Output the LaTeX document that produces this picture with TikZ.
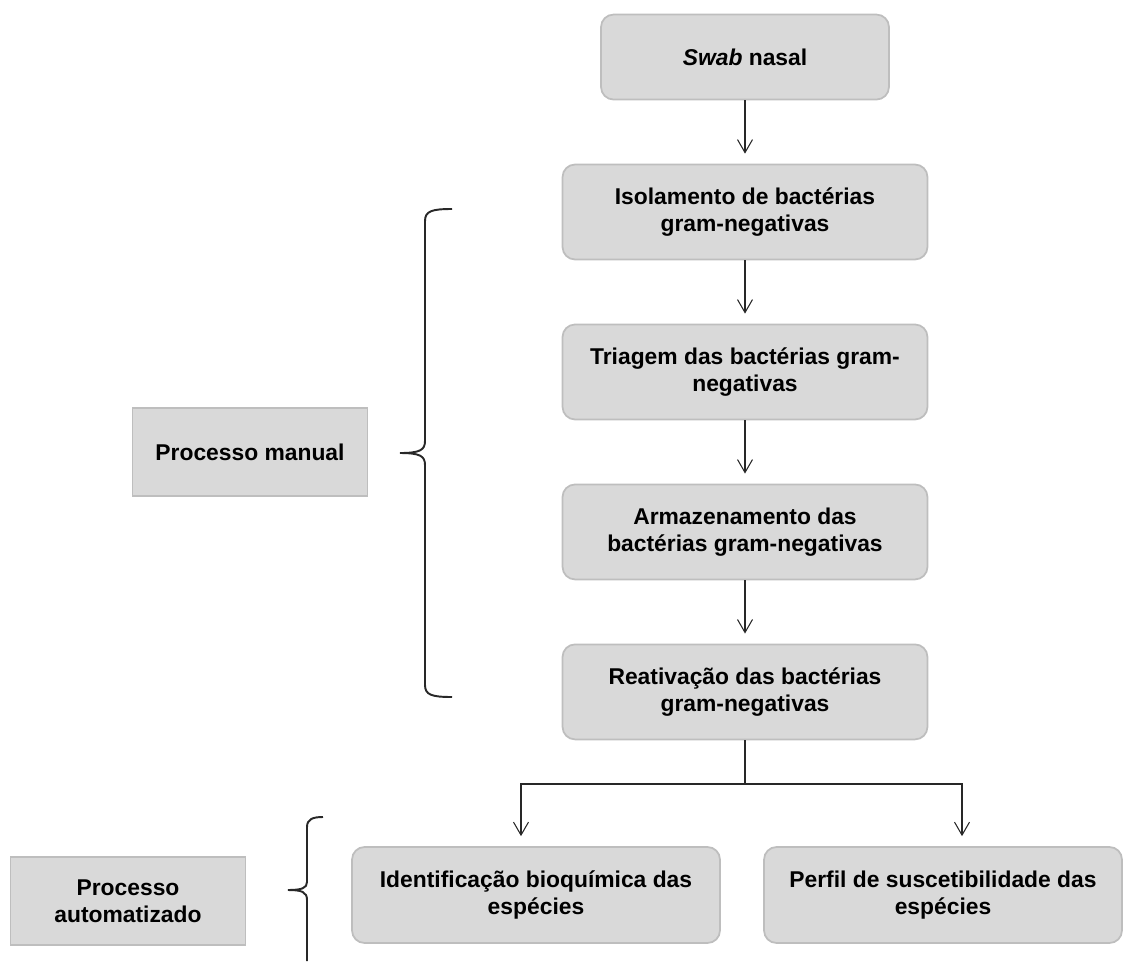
\documentclass[tikz,border=0pt]{standalone}
\usepackage{fontspec}
\setmainfont{Liberation Sans}
\usepackage{tikz}
\usetikzlibrary{arrows.meta}
\definecolor{boxfill}{RGB}{217,217,217}
\definecolor{boxline}{RGB}{190,190,190}
\definecolor{linha}{RGB}{40,40,40}

\begin{document}
\begin{tikzpicture}[x=0.02cm,y=-0.02cm,->,>={Straight Barb[length=0.26cm,width=0.3cm]},
                    shorten >=0.2cm,semithick,draw=linha,node distance=3.2cm]
  \tikzstyle{etapa}=[draw=boxline,fill=boxfill,line width=1pt,rounded corners=0.25cm,
                     align=center,font=\bfseries\fontsize{13}{15.5}\selectfont,
                     minimum width=7.3cm,minimum height=1.9cm]
  \tikzstyle{processo}=[draw=boxline,fill=boxfill,line width=1pt,align=center,
                        font=\bfseries\fontsize{13}{15.5}\selectfont,
                        minimum width=4.7cm,minimum height=1.75cm]
  \tikzstyle{chave}=[-,shorten >=0pt,draw=linha,line width=1.1pt]

  \useasboundingbox (0,0) rectangle (1126,961);

  \node[etapa]  (iso) at (745,212)           {Isolamento de bactérias\\gram-negativas};
  \node[etapa,minimum width=5.76cm,minimum height=1.7cm]
                (swab) [above of=iso,node distance=3.1cm] {\textit{Swab} nasal};
  \node[etapa]  (tri)  [below of=iso]        {Triagem das bactérias gram-\\negativas};
  \node[etapa]  (arm)  [below of=tri]        {Armazenamento das\\bactérias gram-negativas};
  \node[etapa]  (reat) [below of=arm]        {Reativação das bactérias\\gram-negativas};

  \node[etapa,minimum width=7.36cm,minimum height=1.92cm]
                (ident) at (536,895)         {Identificação bioquímica das\\espécies};
  \node[etapa,minimum width=7.16cm,minimum height=1.92cm]
                (perf)  at (943,895)         {Perfil de suscetibilidade das\\espécies};

  \node[processo] (man)  at (250,452)        {Processo manual};
  \node[processo] (auto) at (128,901)        {Processo\\automatizado};

  \coordinate (split) at (745,784);
  \coordinate (esq)   at (521,784);
  \coordinate (dir)   at (962,784);

  \path (swab) edge (iso)
        (iso)  edge (tri)
        (tri)  edge (arm)
        (arm)  edge (reat);
  \draw[-,shorten >=0pt] (reat) -- (split);
  \draw (split) -- (esq) -- (esq |- ident.north);
  \draw (split) -- (dir) -- (dir |- perf.north);

  % chaves
  \draw[chave] (452,209) .. controls (432,209) and (425,211) .. (425,221) -- (425,441)
               .. controls (425,450) and (420,453) .. (400,453);
  \draw[chave] (400,453) .. controls (420,453) and (425,456) .. (425,465) -- (425,685)
               .. controls (425,695) and (432,697) .. (452,697);
  \draw[chave] (323,817) .. controls (313,817) and (307,819) .. (307,827) -- (307,882)
               .. controls (307,888) and (302,890) .. (288,890);
  \draw[chave] (288,890) .. controls (302,890) and (307,892) .. (307,900) -- (307,961);
\end{tikzpicture}
\end{document}
